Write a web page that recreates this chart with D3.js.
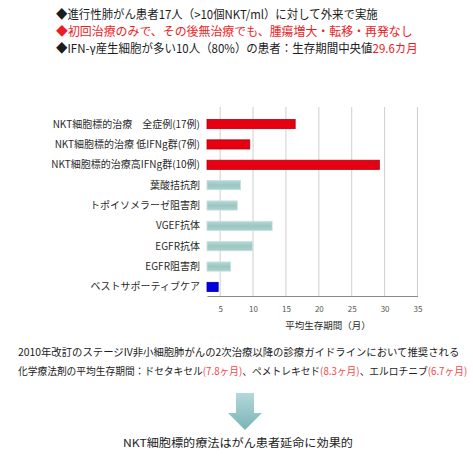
<!DOCTYPE html>
<html><head><meta charset="utf-8">
<script src="https://cdn.jsdelivr.net/npm/d3@7"></script>
<style>
html,body{margin:0;padding:0;background:#fff;}
svg{display:block;font-family:"Noto Sans CJK JP","Noto Sans",sans-serif;}
</style></head>
<body>
<svg id="c" width="473" height="460"></svg>
<script>
// ---- data ----
const categories = [
  "NKT細胞標的治療　全症例(17例)",
  "NKT細胞標的治療 低IFNg群(7例)",
  "NKT細胞標的治療高IFNg群(10例)",
  "葉酸拮抗剤",
  "トポイソメラーゼ阻害剤",
  "VGEF抗体",
  "EGFR抗体",
  "EGFR阻害剤",
  "ベストサポーティブケア"
];
const survivalMonths = [16.4, 9.5, 29.2, 8.1, 7.6, 12.9, 9.9, 6.6, 4.7];
const groups = ["nkt","nkt","nkt","chemo","chemo","chemo","chemo","chemo","bsc"];
const xTicks = [5, 10, 15, 20, 25, 30, 35];
const xAxisMin = 3, xAxisMax = 35;
const xAxisTitle = "平均生存期間（月）";

const topLines = [
  [{t:"◆進行性肺がん患者17人（>10個NKT/ml）に対して外来で実施", c:"#1c1c1c"}],
  [{t:"◆初回治療のみで、その後無治療でも、腫瘍増大・転移・再発なし", c:"#ec1c24"}],
  [{t:"◆IFN-γ産生細胞が多い10人（80%）の患者：生存期間中央値", c:"#1c1c1c"},{t:"29.6カ月", c:"#ec1c24"}]
];
const bottomLines = [
  [{t:"2010年改訂のステージIV非小細胞肺がんの2次治療以降の診療ガイドラインにおいて推奨される", c:"#1c1c1c"}],
  [{t:"化学療法剤の平均生存期間：ドセタキセル", c:"#1c1c1c"},{t:"(7.8ヶ月)", c:"#f04848"},
   {t:"、ペメトレキセド", c:"#1c1c1c"},{t:"(8.3ヶ月)", c:"#f04848"},
   {t:"、エルロチニブ", c:"#1c1c1c"},{t:"(6.7ヶ月)", c:"#f04848"}]
];
const conclusion = "NKT細胞標的療法はがん患者延命に効果的";

// ---- drawing ----
const svg = d3.select("#c");
const defs = svg.append("defs");
const gT = defs.append("linearGradient").attr("id","teal").attr("x1",0).attr("y1",0).attr("x2",0).attr("y2",1);
gT.append("stop").attr("offset","0%").attr("stop-color","#b5d8d6");
gT.append("stop").attr("offset","50%").attr("stop-color","#9cc6c3");
gT.append("stop").attr("offset","100%").attr("stop-color","#abd1cf");
const gA = defs.append("linearGradient").attr("id","arrow").attr("x1",0).attr("y1",0).attr("x2",0).attr("y2",1);
gA.append("stop").attr("offset","0%").attr("stop-color","#b4d8da");
gA.append("stop").attr("offset","100%").attr("stop-color","#79b4b8");

// helper: write a multi-colour line and squeeze it horizontally to a width
function fitLine(parent, segs, x0, y0, size, width, anchor) {
  const g = parent.append("g");
  const t = g.append("text").attr("x", 0).attr("y", 0).attr("font-size", size);
  segs.forEach(s => t.append("tspan").attr("fill", s.c).text(s.t));
  const w = t.node().getComputedTextLength();
  const k = width / w;
  let dx = x0;
  if (anchor === "middle") dx = x0 - width / 2;
  g.attr("transform", `translate(${dx},${y0}) scale(${k},1)`);
  return g;
}

// top lines
const topWidths = [322, 357, 362];
topLines.forEach((line, i) => fitLine(svg, line, 56, 19 + i*17, 12, topWidths[i]));

// chart
const x = d3.scaleLinear().domain([xAxisMin, xAxisMax]).range([207, 417.5]);
const y = d3.scaleBand().domain(categories).range([114, 297]).paddingInner(0.55).paddingOuter(0.27);
const plotTop = 107, plotBottom = 296;

// grid
svg.append("g").selectAll("line").data(xTicks).join("line")
  .attr("x1", d => x(d)).attr("x2", d => x(d))
  .attr("y1", plotTop).attr("y2", plotBottom)
  .attr("stroke", "#cfcfcf").attr("stroke-width", 1);

// bars
const fillFor = g => g === "nkt" ? "#e60012" : g === "bsc" ? "#0000e0" : "url(#teal)";
const strokeFor = g => g === "nkt" ? "#b0000c" : g === "bsc" ? "#0000a0" : "#c4e0de";
svg.append("g").selectAll("rect").data(categories).join("rect")
  .attr("x", x(xAxisMin))
  .attr("y", d => y(d))
  .attr("width", (d,i) => x(survivalMonths[i]) - x(xAxisMin))
  .attr("height", y.bandwidth())
  .attr("fill", (d,i) => fillFor(groups[i]))
  .attr("stroke", (d,i) => strokeFor(groups[i]))
  .attr("stroke-width", 0.8);

// category labels
svg.append("g").selectAll("text").data(categories).join("text")
  .attr("x", 200).attr("y", d => y(d) + y.bandwidth()/2)
  .attr("dy", "0.35em").attr("text-anchor", "end")
  .attr("font-size", 10).attr("fill", "#2a2a2a").text(d => d);

// x axis
const xAxis = d3.axisBottom(x).tickValues(xTicks).tickSize(0).tickPadding(10);
const ax = svg.append("g").attr("transform", `translate(0,${plotBottom})`).call(xAxis);
ax.select(".domain").attr("stroke", "#8a8a8a").attr("stroke-width", 1.2);
ax.selectAll("text").attr("font-size", 8).attr("fill", "#555").attr("font-family", "Noto Sans CJK JP");

svg.append("text").attr("x", 328).attr("y", 329).attr("text-anchor","middle")
  .attr("font-size", 9.5).attr("fill", "#2a2a2a").text(xAxisTitle);

// bottom text
const botWidths = [442, 450];
bottomLines.forEach((line, i) => fitLine(svg, line, 18, 356 + i*19, 10.5, botWidths[i]));

// arrow
const ac = 245, aTop = 393, aNeck = 413, aTip = 430, sw = 9, hw = 17;
svg.append("path")
  .attr("d", `M${ac-sw},${aTop}H${ac+sw}V${aNeck}H${ac+hw}L${ac},${aTip}L${ac-hw},${aNeck}H${ac-sw}Z`)
  .attr("fill", "url(#arrow)");

fitLine(svg, [{t: conclusion, c: "#1c1c1c"}], 238, 447, 11, 230, "middle");
</script>
</body></html>
